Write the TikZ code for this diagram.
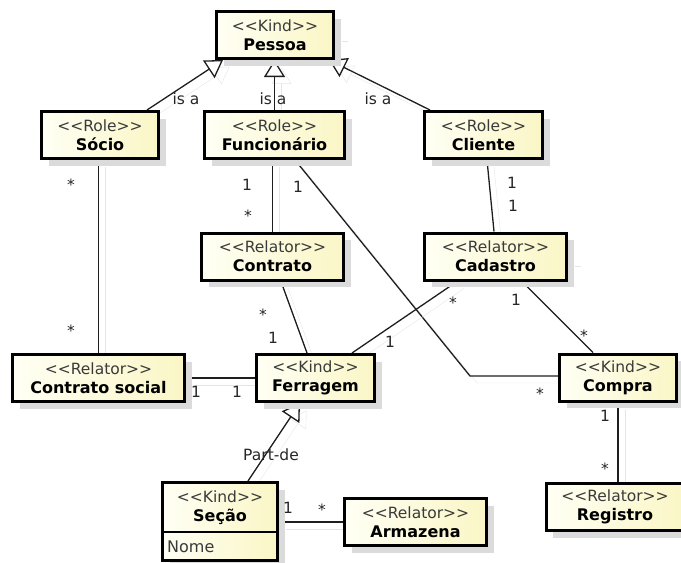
\documentclass[tikz,border=0pt]{standalone}
\usepackage{fontspec}
\setmainfont{DejaVu Sans}
\usetikzlibrary{arrows.meta,positioning,backgrounds,shadows}
\definecolor{boxl}{HTML}{FFFFF4}
\definecolor{boxr}{HTML}{FAF6C6}
\definecolor{stereo}{HTML}{3A3A3A}
\definecolor{wire}{HTML}{1E1E1E}
\newcommand{\stype}[1]{{\fontsize{15.5}{19}\selectfont\color{stereo}<{}<#1>{}>}}
\begin{document}
\begin{tikzpicture}[x=1pt, y=-1pt, font=\fontsize{16}{19}\selectfont,
  box/.style={draw, line width=3pt, minimum height=47pt, inner sep=0pt, align=center, left color=boxl, right color=boxr, general shadow={fill=black!14, shadow xshift=7pt, shadow yshift=-7pt}},
  link/.style={draw=wire, line width=1.3pt, preaction={draw=black!10, transform canvas={shift={(7pt,-7pt)}}}},
  isa/.style={-{Triangle[length=17pt, width=21pt, fill=white]}},
  mult/.style={inner sep=0pt, text height=11pt, text depth=0pt, text=black!85, font=\fontsize{15.5}{18}\selectfont}]
\useasboundingbox (0,0) rectangle (681,563);
\node[box, minimum width=117pt] (pessoa) at (275,35) {\stype{Kind}\\\textbf{Pessoa}};
\node[box, minimum width=117pt] (socio) at (100,135) {\stype{Role}\\\textbf{Sócio}};
\node[box, minimum width=140pt] (func) at (274.5,135) {\stype{Role}\\\textbf{Funcionário}};
\node[box, minimum width=118pt] (cliente) at (483.5,135) {\stype{Role}\\\textbf{Cliente}};
\node[box, minimum width=142pt] (contrato) at (272.5,256.5) {\stype{Relator}\\\textbf{Contrato}};
\node[box, minimum width=142pt] (cadastro) at (495.5,256.5) {\stype{Relator}\\\textbf{Cadastro}};
\node[box, minimum width=172pt] (csocial) at (98.5,378) {\stype{Relator}\\\textbf{Contrato social}};
\node[box, minimum width=118pt] (ferragem) at (315.5,378) {\stype{Kind}\\\textbf{Ferragem}};
\node[box, minimum width=117pt] (compra) at (618,377.5) {\stype{Kind}\\\textbf{Compra}};
\node[box, minimum width=142pt] (armazena) at (415.5,522) {\stype{Relator}\\\textbf{Armazena}};
\node[box, minimum width=138pt] (registro) at (615,507) {\stype{Relator}\\\textbf{Registro}};
\node[box, minimum width=115pt, minimum height=78pt] (secao) at (220,521.5) {};
\node[align=center, inner sep=0pt] (secaohead) at (220,507.5) {\stype{Kind}\\\textbf{Seção}};
\coordinate (split) at (220,532);
\draw[line width=1.5pt] (secao.west |- split) -- (secao.east |- split);
\node[anchor=west, inner sep=0pt, text=stereo] (nome) at (167,547) {Nome};
\coordinate (stubA) at (341,34);
\coordinate (stubB) at (574,259);
\begin{scope}[on background layer]
\draw[link] (pessoa.east |- stubA) -- (stubA);
\draw[link] (cadastro.east |- stubB) -- (stubB);
\draw[link, isa] ([xshift=47pt]socio.north) -- ([xshift=-52pt]pessoa.south);
\draw[link, isa] (func.north) -- (func.north |- pessoa.south);
\draw[link, isa] ([xshift=-53.5pt]cliente.north) -- ([xshift=54pt]pessoa.south);
\draw[link] (socio.south -| csocial.north) -- (csocial.north);
\draw[link] (func.south -| contrato.north) -- (contrato.north);
\coordinate (bend) at (470,376);
\draw[link] ([xshift=20.5pt]func.south) -- (bend) -- (bend -| compra.west);
\draw[link] ([xshift=3.5pt]cliente.south) -- ([xshift=-1.5pt]cadastro.north);
\draw[link] ([xshift=8.5pt]contrato.south) -- ([xshift=-8.5pt]ferragem.north);
\draw[link] ([xshift=-38.5pt]cadastro.south) -- ([xshift=36.5pt]ferragem.north);
\draw[link] ([xshift=26.5pt]cadastro.south) -- ([xshift=-25pt]compra.north);
\draw[link] (csocial.east) -- (ferragem.west);
\draw[link, isa] ([xshift=28pt]secao.north) -- ([xshift=-15.5pt]ferragem.south);
\draw[link] (armazena.west -| secao.east) -- (armazena.west);
\draw[link] (compra.south) -- (compra.south |- registro.north);
\end{scope}
\node[mult] (isaSocio) at (186,99) {is a};
\node[mult] (isaFunc) at (273,99) {is a};
\node[mult] (isaCliente) at (378,99) {is a};
\node[mult] (mSocio) at (71,185) {*};
\node[mult] (mCsocial) at (71,331) {*};
\node[mult] (mFuncA) at (247,185) {1};
\node[mult] (mContratoA) at (248,216) {*};
\node[mult] (mFuncB) at (298,187) {1};
\node[mult] (mCompraA) at (540,394) {*};
\node[mult] (mCliente) at (512,183) {1};
\node[mult] (mCadastroA) at (513,206) {1};
\node[mult] (mContratoB) at (263,315) {*};
\node[mult] (mFerragemA) at (273,338) {1};
\node[mult] (mCadastroB) at (453,303) {*};
\node[mult] (mFerragemB) at (390,342) {1};
\node[mult] (mCadastroC) at (516,300) {1};
\node[mult] (mCompraB) at (584,336) {*};
\node[mult] (mCsocialB) at (196,392) {1};
\node[mult] (mFerragemC) at (237,392) {1};
\node[mult] (partde) at (271,455) {Part-de};
\node[mult] (mSecao) at (288,508) {1};
\node[mult] (mArmazena) at (322,510) {*};
\node[mult] (mCompraC) at (605,416) {1};
\node[mult] (mRegistro) at (605,469) {*};
\end{tikzpicture}
\end{document}
